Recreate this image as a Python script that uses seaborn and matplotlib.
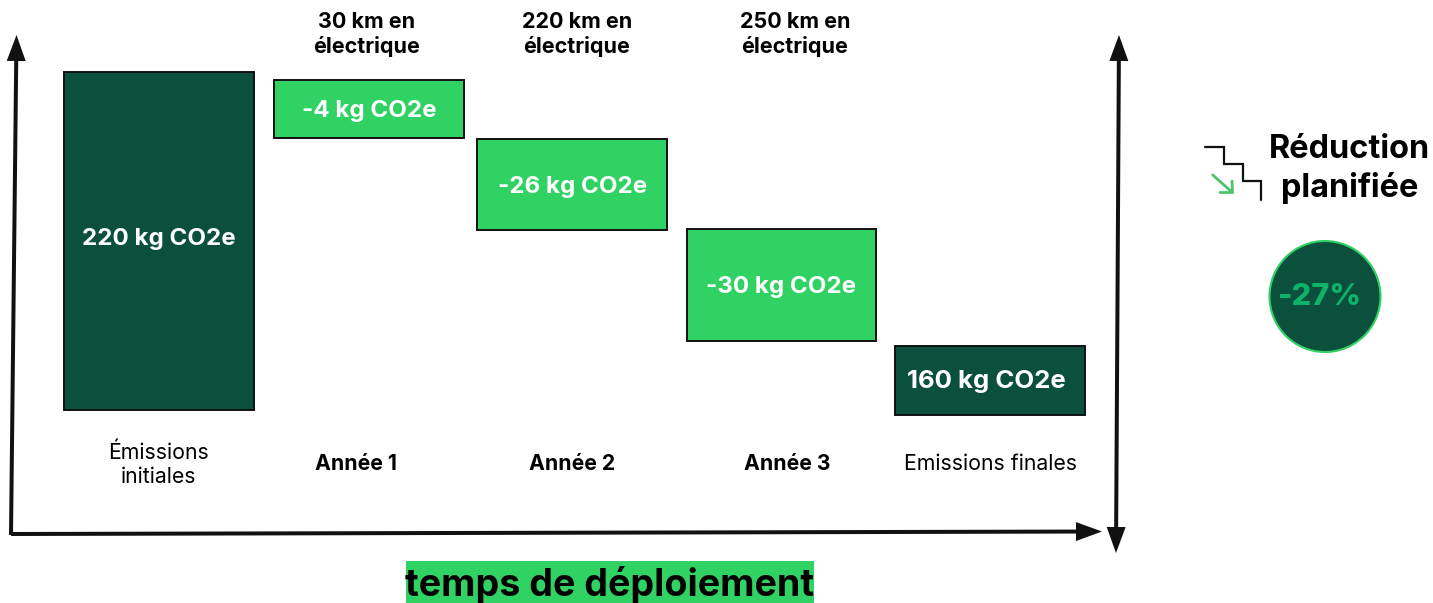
import matplotlib
matplotlib.use("Agg")
import matplotlib.pyplot as plt
from matplotlib.patches import Circle, Rectangle
import pandas as pd
import seaborn as sns

steps = ["Émissions initiales", "Année 1", "Année 2", "Année 3", "Emissions finales"]
bar_centre = [159, 369, 572, 781.5, 990]
bar_start = [72, 80, 139, 229, 346]
bar_span = [338, 58, 91, 112, 69]
bar_labels = ["220 kg CO2e", "-4 kg CO2e", "-26 kg CO2e", "-30 kg CO2e", "160 kg CO2e"]
distances = ["30 km en\nélectrique", "220 km en\nélectrique", "250 km en\nélectrique"]
step_labels = ["Émissions\ninitiales", "Année 1", "Année 2", "Année 3", "Emissions finales"]
reduction = "-27%"

DARK = "#0a503c"
GREEN = "#30d263"
INK = "#111111"
bar_colors = [DARK, GREEN, GREEN, GREEN, DARK]

sns.set_theme(style="white")
plt.rcParams["font.family"] = ["Inter", "DejaVu Sans"]

fig = plt.figure(figsize=(14.33, 6.03), dpi=100)
ax = fig.add_axes([0, 0, 1, 1])

df = pd.DataFrame({"centre": bar_centre, "span": bar_span, "step": steps})
sns.barplot(data=df, x="centre", y="span", native_scale=True, width=189.5 / 203,
            color=GREEN, edgecolor=INK, linewidth=1.4, saturation=1, ax=ax)
for patch, start, colour in zip(ax.patches, bar_start, bar_colors):
    patch.set_y(start)
    patch.set_facecolor(colour)

ax.set_xlim(0, 1433)
ax.set_ylim(603, 0)
ax.set_axis_off()

# bar captions
cap_x = [159, 369, 572.5, 781.5, 986.5]
cap_y = [238.5, 111.5, 187.5, 286.5, 381.5]
cap_size = [17.4, 17.4, 17.4, 17.4, 18.6]
for x, y, s, fs in zip(cap_x, cap_y, bar_labels, cap_size):
    ax.text(x, y, s, color="white", ha="center", va="center", fontsize=fs, fontweight="bold")

# distances above the steps
for x, s in zip([367, 577, 795], distances):
    ax.text(x, 34.5, s, color="black", ha="center", va="center", fontsize=15.5,
            fontweight="bold", linespacing=1.24)

# step names under the bars
name_x = [159, 356, 572, 787, 991]
name_y = [465, 464, 464, 464, 464]
for x, y, s in zip(name_x, name_y, step_labels):
    bold = s.startswith("Année")
    ax.text(x, y, s, color="black", ha="center", va="center", fontsize=15.3,
            fontweight="bold" if bold else "normal", linespacing=1.25)

# axis arrows
arrow = dict(width=4, head_width=19, head_length=26, length_includes_head=True,
             fc=INK, ec="none", zorder=4)
ax.arrow(11, 535, 5.5, -500, **arrow)
ax.arrow(11, 534, 1091, -2.5, **arrow)
ax.arrow(1117.5, 300, 1.5, -265, **arrow)
ax.arrow(1117.5, 300, -1.5, 253, **arrow)

# axis title
ax.add_patch(Rectangle((406, 561), 408, 42, fc=GREEN, ec="none"))
ax.text(610, 585, "temps de déploiement", color="black", ha="center", va="center",
        fontsize=27.1, fontweight="bold")

# reduction panel
ax.text(1349.5, 169, "Réduction\nplanifiée", color="black", ha="center", va="center",
        fontsize=23.4, fontweight="bold", linespacing=1.3)
ax.plot([1205, 1224.5, 1224.5, 1243.5, 1243.5, 1261, 1261],
        [147.3, 147.3, 163.5, 163.5, 181, 181, 200], color=INK, lw=1.6,
        solid_joinstyle="miter")
ax.plot([1212.7, 1232.5], [175, 192.5], color="#4cc46f", lw=2)
ax.plot([1220, 1232.5, 1232], [192.5, 192.5, 181], color="#4cc46f", lw=2)
ax.add_patch(Circle((1325, 296.5), 55.5, fc=DARK, ec=GREEN, lw=1.5))
ax.text(1320, 297, reduction, color="#0db36b", ha="center", va="center",
        fontsize=22.2, fontweight="heavy")

fig.savefig("out.png", dpi=100)
